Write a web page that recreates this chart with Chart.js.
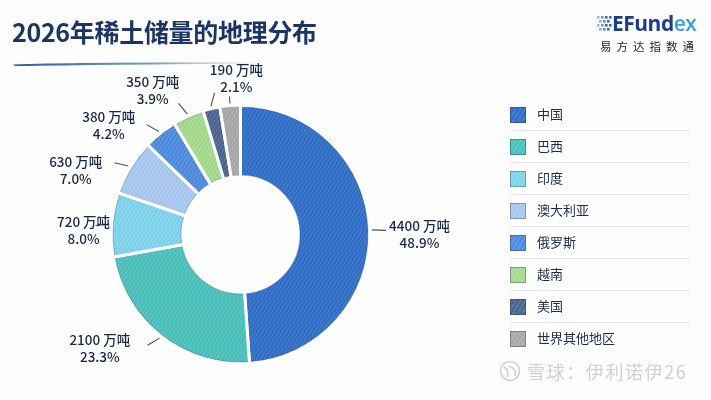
<html>
<head>
<meta charset="utf-8">
<script src="https://cdn.jsdelivr.net/npm/chart.js@4.4.1/dist/chart.umd.min.js"></script>
<style>
  body { margin: 0; background: #fff; font-family: "Noto Sans CJK SC", "Noto Sans", sans-serif; }
  #wrap { position: relative; width: 711px; height: 400px; overflow: hidden; background: #fefefe; }
  #chartBox { position: absolute; left: 0; top: 0; width: 711px; height: 400px; }
  .title { position: absolute; left: 12px; top: 16px; font-size: 25px; line-height: 30px; font-weight: 700; color: #1b3566; letter-spacing: -0.3px; white-space: nowrap; }
  .brush { position: absolute; left: 13px; top: 61px; width: 250px; height: 5px; }
  .logo { position: absolute; left: 596px; top: 11px; width: 112px; height: 44px; }
  .logo .word { position: absolute; left: 16px; top: 0px; font-family: "Open Sans", "Noto Sans", sans-serif; font-weight: 700; font-size: 21px; line-height: 24px; letter-spacing: -0.5px; color: #1c3c8c; }
  .logo .word span { color: #3c9fe0; font-weight: 600; }
  .logo .sub { position: absolute; left: 4px; top: 28px; font-size: 11.5px; line-height: 14px; letter-spacing: 5px; color: #2a2a2a; white-space: nowrap; }
  #legend { position: absolute; left: 510px; top: 99px; width: 180px; }
  #legend .row { position: relative; height: 31px; border-bottom: 1px solid #e4e4e4; }
  #legend .row:last-child { border-bottom: none; }
  #legend .sw { position: absolute; left: 0; top: 8px; width: 14px; height: 14px; border: 1px solid rgba(20,30,60,0.3); }
  #legend .tx { position: absolute; left: 27px; top: 6px; font-size: 13px; line-height: 18px; color: #1e2a46; }
  .mark { position: absolute; left: 499px; top: 358px; height: 26px; white-space: nowrap; color: #d0d0d0; font-size: 18px; line-height: 26px; text-shadow: 0 0 2px #fff; }
  .mark svg { position: absolute; left: 0; top: 2px; }
  .mark .t { position: absolute; left: 28px; top: 0; letter-spacing: 1.6px; }
</style>
</head>
<body>
<div id="wrap">
  <div id="chartBox"><canvas id="rareEarthChart"></canvas></div>
  <div class="title">2026年稀土储量的地理分布</div>
  <svg class="brush" viewBox="0 0 250 5">
    <defs>
      <linearGradient id="bg" x1="0" x2="1" y1="0" y2="0">
        <stop offset="0" stop-color="#2c5aa6"/>
        <stop offset="0.6" stop-color="#5c87c8" stop-opacity="0.8"/>
        <stop offset="1" stop-color="#a9c2e6" stop-opacity="0.1"/>
      </linearGradient>
    </defs>
    <path d="M0 3.5 Q60 1 250 1.2 L250 2.4 Q90 3.5 2 5 Z" fill="url(#bg)"/>
  </svg>
  <div class="logo">
    <svg width="17" height="18" style="position:absolute;left:0;top:4px" viewBox="0 0 17 18">
      <g fill="#2f6fc8">
        <rect x="1" y="1" width="2.6" height="2.6" opacity="0.45"/><rect x="5" y="1" width="2.6" height="2.6" opacity="0.7"/><rect x="9" y="1" width="2.6" height="2.6"/><rect x="13" y="1" width="2.6" height="2.6"/>
        <rect x="3" y="5" width="2.6" height="2.6" opacity="0.55"/><rect x="7" y="5" width="2.6" height="2.6" opacity="0.8"/><rect x="11" y="5" width="2.6" height="2.6"/>
        <rect x="1" y="9" width="2.6" height="2.6" opacity="0.45"/><rect x="5" y="9" width="2.6" height="2.6" opacity="0.7"/><rect x="9" y="9" width="2.6" height="2.6"/><rect x="13" y="9" width="2.6" height="2.6"/>
        <rect x="3" y="13" width="2.6" height="2.6" opacity="0.55"/><rect x="7" y="13" width="2.6" height="2.6" opacity="0.8"/><rect x="11" y="13" width="2.6" height="2.6"/>
      </g>
    </svg>
    <div class="word">EFund<span>ex</span></div>
    <div class="sub">易方达指数通</div>
  </div>
  <div id="legend"></div>
  <div class="mark">
    <svg width="24" height="22" viewBox="0 0 24 22">
      <circle cx="11" cy="11" r="9.5" fill="none" stroke="#d0d0d0" stroke-width="1.6"/>
      <path d="M5 7 Q11 11 8 17 M10 6 Q18 9 16 16" fill="none" stroke="#d0d0d0" stroke-width="1.6"/>
    </svg>
    <div class="t">雪球：伊利诺伊26</div>
  </div>
</div>

<script>
  // data (万吨)
  var regions = ["中国", "巴西", "印度", "澳大利亚", "俄罗斯", "越南", "美国", "世界其他地区"];
  var reserves = [4400, 2100, 720, 630, 380, 350, 190, 230];
  var shareText = ["48.9%", "23.3%", "8.0%", "7.0%", "4.2%", "3.9%", "2.1%", null];
  var sliceColors = ["#3270c8", "#4cc2bd", "#80d4ec", "#a9c8f0", "#4f8de0", "#a6db8e", "#4d6890", "#a9a9a9"];

  // label layout: angle nudge (deg) and distance from centre (px); null = leader only, points at previous label
  var labelShift = [2, 13, -3, -10, -12, -7.5, 11.5, null];
  var labelDist = [179, 181, 157, 177, 171, 169, 156, null];

  function hatch(color) {
    var c = document.createElement('canvas');
    c.width = 12; c.height = 12;
    var g = c.getContext('2d');
    g.fillStyle = color;
    g.fillRect(0, 0, 12, 12);
    g.lineWidth = 1;
    g.strokeStyle = 'rgba(255,255,255,0.11)';
    for (var k = -12; k < 24; k += 4) {
      g.beginPath(); g.moveTo(k, 12); g.lineTo(k + 7, 0); g.stroke();
    }
    g.strokeStyle = 'rgba(0,0,0,0.04)';
    for (var k = -10; k < 24; k += 4) {
      g.beginPath(); g.moveTo(k, 12); g.lineTo(k + 7, 0); g.stroke();
    }
    return g.createPattern(c, 'repeat');
  }

  // legend
  var legendBox = document.getElementById('legend');
  regions.forEach(function (name, i) {
    var row = document.createElement('div');
    row.className = 'row';
    row.innerHTML = '<div class="sw" style="background:' + sliceColors[i] +
      ' repeating-linear-gradient(120deg, rgba(255,255,255,0.16) 0 1px, transparent 1px 4px)"></div>' +
      '<div class="tx">' + name + '</div>';
    legendBox.appendChild(row);
  });

  var sliceLabels = {
    id: 'sliceLabels',
    afterDatasetsDraw: function (chart) {
      var ctx = chart.ctx;
      var arcs = chart.getDatasetMeta(0).data;
      var spots = [];
      ctx.save();
      // faint pencil outline round the ring
      arcs.forEach(function (arc) {
        var p = arc.getProps(['x', 'y', 'startAngle', 'endAngle', 'outerRadius', 'innerRadius'], true);
        ctx.strokeStyle = 'rgba(25,45,90,0.28)';
        ctx.lineWidth = 1;
        ctx.beginPath();
        ctx.arc(p.x, p.y, p.outerRadius - 1.5, p.startAngle + 0.012, p.endAngle - 0.012);
        ctx.stroke();
        ctx.beginPath();
        ctx.arc(p.x, p.y, p.innerRadius + 1.5, p.startAngle + 0.025, p.endAngle - 0.025);
        ctx.stroke();
      });

      arcs.forEach(function (arc, i) {
        var p = arc.getProps(['x', 'y', 'startAngle', 'endAngle', 'outerRadius'], true);
        var mid = (p.startAngle + p.endAngle) / 2;
        var r = p.outerRadius - 1.5;
        var ex = p.x + Math.cos(mid) * (r + 4), ey = p.y + Math.sin(mid) * (r + 4);
        var lx, ly, len = 14, dx, dy;
        if (labelDist[i] != null) {
          var a = mid + labelShift[i] * Math.PI / 180;
          lx = p.x + Math.cos(a) * labelDist[i];
          ly = p.y + Math.sin(a) * labelDist[i];
          spots[i] = [lx, ly];
          // leader: halfway between radial and toward the text
          var tx = lx - ex, ty = ly - ey, tl = Math.hypot(tx, ty);
          dx = Math.cos(mid) + tx / tl; dy = Math.sin(mid) + ty / tl;
        } else {
          // shared label: short radial tick only
          dx = Math.cos(mid); dy = Math.sin(mid); len = 7;
        }
        var dl = Math.hypot(dx, dy);
        ctx.strokeStyle = '#4a4f5a';
        ctx.lineWidth = 1.1;
        ctx.beginPath();
        ctx.moveTo(ex, ey);
        ctx.lineTo(ex + dx / dl * len, ey + dy / dl * len);
        ctx.stroke();

        if (labelDist[i] != null) {
          ctx.fillStyle = '#1a2847';
          ctx.font = '500 13.5px "Noto Sans CJK SC", "Noto Sans", sans-serif';
          ctx.textAlign = 'center';
          ctx.textBaseline = 'middle';
          ctx.fillText(reserves[i] + ' 万吨', lx, ly - 8.5);
          ctx.fillText(shareText[i], lx, ly + 8.5);
        }
      });
      ctx.restore();
    }
  };

  var chartCtx = document.getElementById('rareEarthChart');
  var rareEarthChart = new Chart(chartCtx, {
    type: 'doughnut',
    data: {
      labels: regions,
      datasets: [{
        data: reserves,
        backgroundColor: sliceColors.map(hatch),
        borderColor: '#ffffff',
        borderWidth: 3,
        hoverOffset: 0
      }]
    },
    options: {
      responsive: true,
      maintainAspectRatio: false,
      animation: false,
      cutout: '45%',
      layout: { padding: { left: 110, top: 104, right: 340, bottom: 35 } },
      plugins: {
        legend: { display: false },
        tooltip: { enabled: false }
      }
    },
    plugins: [sliceLabels]
  });
</script>
</body>
</html>
